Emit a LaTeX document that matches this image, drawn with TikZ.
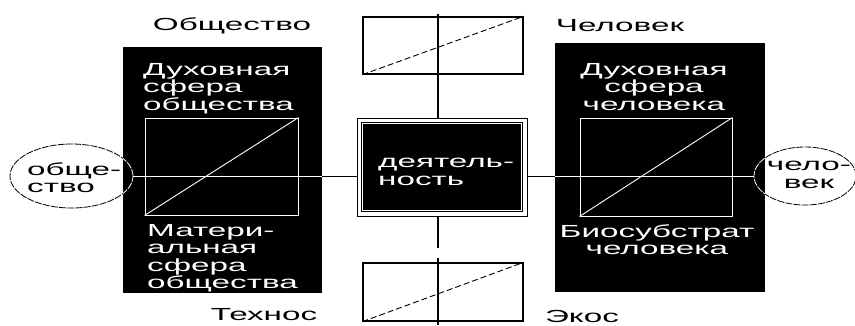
\documentclass[tikz,border=0pt]{standalone}
\usepackage{fontspec}
\setmainfont{Liberation Sans}
\newfontfamily\pixfamily[FakeStretch=1.9]{Liberation Sans}
\newcommand\pixfont{\pixfamily\fontsize{17.5}{17.5}\selectfont}
\usetikzlibrary{shapes.geometric,positioning}

\begin{document}
\begin{tikzpicture}[x=1pt,y=-1pt,
        sphere/.style={fill=black,inner sep=0pt},
        core/.style={draw=white,line width=0.9pt,inner sep=0pt},
        slot/.style={draw=black,line width=1.4pt,minimum width=160pt,
                     minimum height=57pt,inner sep=0pt},
        limit/.style={ellipse,inner sep=0pt,line width=0.8pt,
                      dash pattern=on 7pt off 1.2pt},
        lbl/.style={font=\pixfont,inner sep=0pt,align=left},
        link/.style={line width=0.9pt}]
        \useasboundingbox (0,0) rectangle (855,325);
        % Kosmos: Technos / Ekos
        \node[slot] (upbox) at (443,45.5) {};
        \node[slot,minimum height=58pt] (downbox) at (443,292) {};
        \draw[link,dash pattern=on 6pt off 3pt] (upbox.south west) -- (upbox.north east);
        \draw[link,dash pattern=on 6pt off 3pt] (downbox.south west) -- (downbox.north east);
        % activity
        \node[draw=black,fill=white,line width=1pt,inner sep=0pt,
              minimum width=170pt,minimum height=98pt] (frame) at (442,167) {};
        \node[fill=black,draw=white,double=black,line width=0.7pt,double distance=0.8pt,
              inner sep=0pt,minimum width=161pt,minimum height=89pt] (act) at (442,167) {};
        \coordinate (axtop) at (438,14);
        \coordinate (axcut) at (438,248);
        \coordinate (axlow) at (438,258);
        \coordinate (axend) at (438,325);
        \draw[line width=1.5pt] (axtop) -- (axtop |- frame.north);
        \draw[line width=1.5pt] (axtop |- frame.south) -- (axcut);
        \draw[line width=1.5pt] (axlow) -- (axend);
        % society and man
        \node[sphere,minimum width=199pt,minimum height=246pt] (lsoc) at (222.5,170) {};
        \node[sphere,minimum width=210pt,minimum height=249pt] (rman) at (660,167.5) {};
        \node[core,minimum width=153pt,minimum height=97pt] (lcore) at (221.5,166.5) {};
        \node[core,minimum width=152pt,minimum height=98pt] (rcore) at (656,167) {};
        \draw[link,white] (lcore.south west) -- (lcore.north east);
        \draw[link,white] (rcore.south west) -- (rcore.north east);
        \node[limit,draw,minimum width=123pt,minimum height=64pt] (soc) at (71.5,176) {};
        \node[limit,draw,minimum width=102pt,minimum height=58pt] (man) at (805,176) {};
        \draw[link] (soc.east) -- (frame.west |- soc.east);
        \draw[link] (frame.east |- man.west) -- (man.west);
        \draw[link,white] (soc.east) -- (lsoc.east |- soc.east);
        \draw[link,white] (rman.west |- man.west) -- (man.west);
        \begin{scope}
          \clip (lsoc.south west) rectangle (lsoc.north east);
          \draw[white,line width=0.8pt,dash pattern=on 7pt off 1.2pt]
            (soc.center) ellipse [x radius=61.5pt,y radius=32pt];
        \end{scope}
        \begin{scope}
          \clip (rman.south west) rectangle (rman.north east);
          \draw[white,line width=0.8pt,dash pattern=on 7pt off 1.2pt]
            (man.center) ellipse [x radius=51pt,y radius=29pt];
        \end{scope}
        % labels
        \node[lbl] (socname) at (232,26) {Общество};
        \node[lbl] (manname) at (620,26) {Человек};
        \node[lbl] (techname) at (264,315) {Технос};
        \node[lbl] (econame) at (582,316) {Экос};
        \node[lbl,text=white,anchor=north west] (lspirit) at (143,63) {Духовная\\сфера\\общества};
        \node[lbl,text=white,anchor=north west] (lmatter) at (147,224) {Матери-\\альная\\сфера\\общества};
        \node[lbl,text=white,align=center,anchor=north] (rspirit) at (654,63) {Духовная\\сфера\\человека};
        \node[lbl,text=white,align=center,anchor=north] (rbody) at (657,224) {Биосубстрат\\человека};
        \node[lbl,text=white,anchor=north west] (acttext) at (378,158) {деятель-\\ность};
        \node[lbl,anchor=north west] (soctext) at (27,162) {обще-\\ство};
        \node[lbl,align=center,anchor=north] (mantext) at (809,161) {чело-\\век};
\end{tikzpicture}
\end{document}
